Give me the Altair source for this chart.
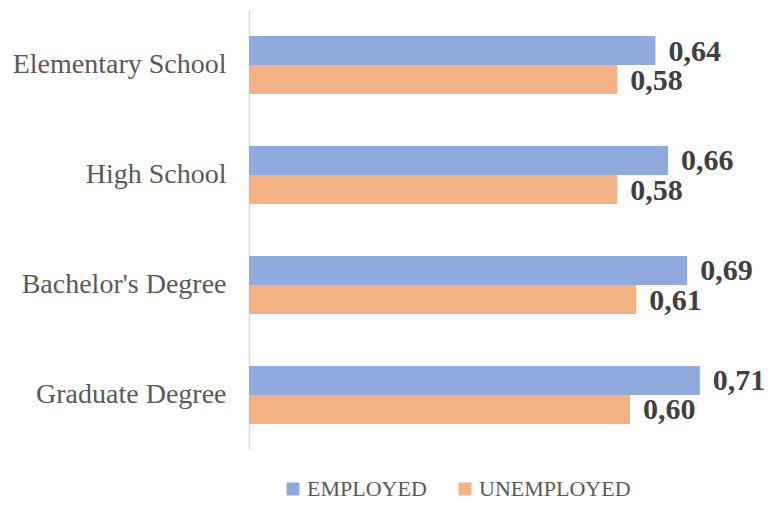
import altair as alt
import pandas as pd

categories = ["Elementary School", "High School", "Bachelor's Degree", "Graduate Degree"]
series = ["EMPLOYED", "UNEMPLOYED"]
employed = [0.64, 0.66, 0.69, 0.71]
unemployed = [0.58, 0.58, 0.61, 0.60]
colors = ["#8FAADC", "#F4B183"]

rows = []
for c, e, u in zip(categories, employed, unemployed):
    for s, v in zip(series, (e, u)):
        rows.append({"category": c, "series": s, "value": v,
                     "label": f"{v:.2f}".replace(".", ",")})
df = pd.DataFrame(rows)

base = alt.Chart(df).encode(
    y=alt.Y("category:N", sort=categories, title=None,
            scale=alt.Scale(paddingInner=0.4727, paddingOuter=0.23636),
            axis=alt.Axis(ticks=False, domainColor="#D9D9D9", domainWidth=1.5,
                          labelFont="Liberation Serif", labelFontSize=28,
                          labelColor="#595959", labelPadding=23, grid=False,
                          labelLimit=400)),
    yOffset=alt.YOffset("series:N", sort=series,
                        scale=alt.Scale(paddingInner=0, paddingOuter=0)),
    x=alt.X("value:Q", title=None, scale=alt.Scale(domain=[0, 0.8], nice=False),
            axis=None),
)

bars = base.mark_bar().encode(
    color=alt.Color("series:N", sort=series,
                    scale=alt.Scale(domain=series, range=colors),
                    legend=alt.Legend(title=None, orient="none", direction="horizontal",
                                      legendX=33, legendY=468, symbolType="square",
                                      symbolSize=169, symbolStrokeWidth=0,
                                      labelFont="Liberation Serif", labelFontSize=22,
                                      labelColor="#595959", labelOffset=3,
                                      columnPadding=27, padding=0)),
)

labels = base.mark_text(align="left", baseline="middle", dx=13, dy=1,
                        font="Liberation Serif", fontSize=30, fontWeight="bold",
                        color="#404040").encode(text="label:N")

chart = (bars + labels).properties(
    width=508, height=440,
    autosize=alt.AutoSizeParams(type="none"),
    padding={"left": 241, "top": 2, "right": 7, "bottom": 53},
).configure_view(stroke=None)

chart.save("out.html", embed_options={"renderer": "svg", "actions": False})
